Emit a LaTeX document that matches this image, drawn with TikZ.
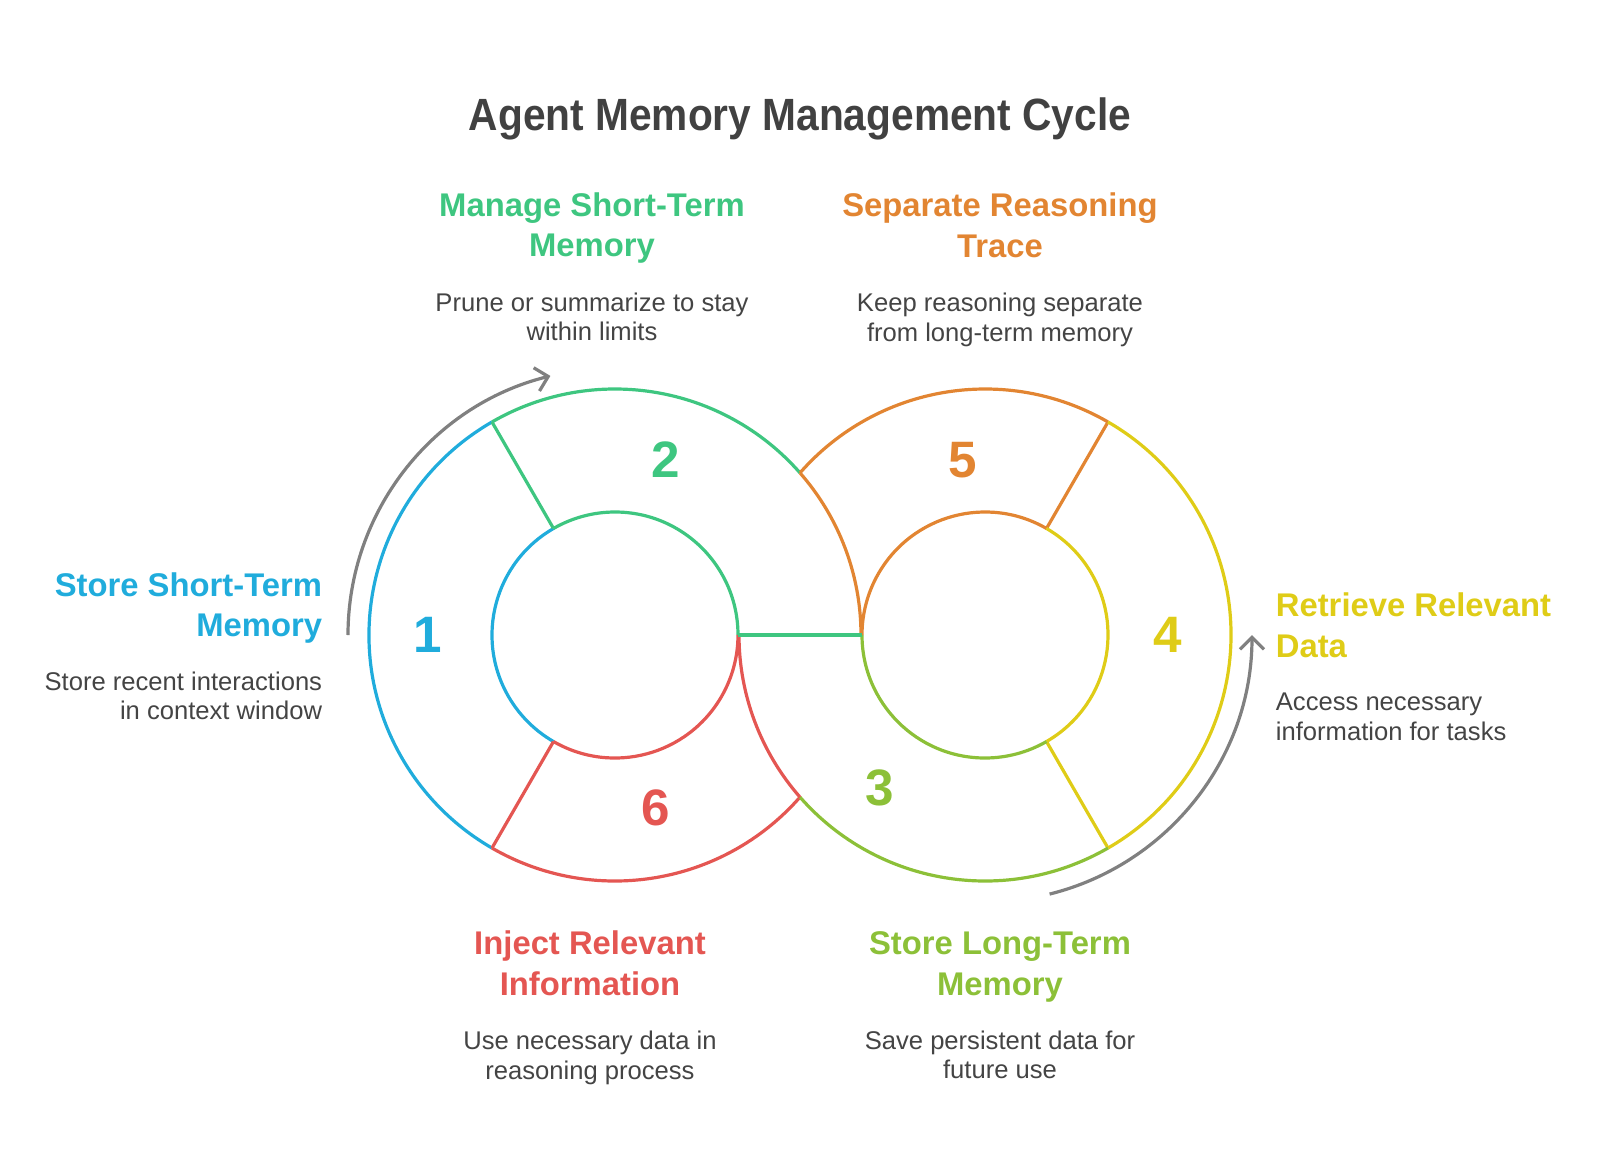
\documentclass[tikz,border=0pt]{standalone}
\usepackage{fontspec}
\setmainfont{Liberation Sans}
\newfontfamily\titlefont[FakeStretch=0.9]{Liberation Sans}
\usetikzlibrary{arrows.meta}
\definecolor{cblue}{HTML}{20ACDC}
\definecolor{cgreen}{HTML}{3EC680}
\definecolor{corange}{HTML}{E28532}
\definecolor{cyellow}{HTML}{DFCC17}
\definecolor{clime}{HTML}{8CC038}
\definecolor{cred}{HTML}{E45652}
\definecolor{cgray}{HTML}{808080}
\definecolor{ctext}{HTML}{444444}
\begin{document}
\begin{tikzpicture}[x=0.5pt,y=0.5pt,
	ring/.style={line width=1.6pt},
	cyc/.style={line width=1.6pt,cgray,-{Straight Barb[length=6pt,width=12pt]}},
	num/.style={inner sep=0pt,font=\fontsize{25.6}{30}\selectfont\bfseries},
	head/.style={inner sep=0pt,align=center,font=\fontsize{16.4}{20.4}\selectfont\bfseries},
	desc/.style={inner sep=0pt,align=center,text=ctext,font=\fontsize{12.8}{14.8}\selectfont}]
	\useasboundingbox (-800,-534) rectangle (800,635);
	\coordinate (L) at (-185,0);
	\coordinate (R) at (185,0);
	% left ring
	\draw[ring,cblue] ([shift={(120:246)}]L) arc[start angle=120,end angle=240,radius=246];
	\draw[ring,cblue] ([shift={(120:123)}]L) arc[start angle=120,end angle=240,radius=123];
	\draw[ring,cgreen] ([shift={(41.24:246)}]L) arc[start angle=41.24,end angle=120,radius=246];
	\draw[ring,cgreen] ([shift={(0:123)}]L) arc[start angle=0,end angle=120,radius=123];
	\draw[ring,cgreen] ([shift={(120:123)}]L) -- ([shift={(120:246)}]L);
	\draw[ring,cred] ([shift={(240:246)}]L) arc[start angle=240,end angle=318.76,radius=246];
	\draw[ring,cred] ([shift={(240:123)}]L) arc[start angle=240,end angle=360,radius=123];
	\draw[ring,cred] ([shift={(240:123)}]L) -- ([shift={(240:246)}]L);
	\draw[ring,corange] ([shift={(0:246)}]L) arc[start angle=0,end angle=41.24,radius=246];
	% right ring
	\draw[ring,corange] ([shift={(60:246)}]R) arc[start angle=60,end angle=138.76,radius=246];
	\draw[ring,corange] ([shift={(60:123)}]R) arc[start angle=60,end angle=180,radius=123];
	\draw[ring,corange] ([shift={(60:123)}]R) -- ([shift={(60:246)}]R);
	\draw[ring,cyellow] ([shift={(-60:246)}]R) arc[start angle=-60,end angle=60,radius=246];
	\draw[ring,cyellow] ([shift={(-60:123)}]R) arc[start angle=-60,end angle=60,radius=123];
	\draw[ring,cyellow] ([shift={(-60:123)}]R) -- ([shift={(-60:246)}]R);
	\draw[ring,clime] ([shift={(221.24:246)}]R) arc[start angle=221.24,end angle=300,radius=246];
	\draw[ring,clime] ([shift={(180:123)}]R) arc[start angle=180,end angle=300,radius=123];
	\draw[ring,cred] ([shift={(180:246)}]R) arc[start angle=180,end angle=221.24,radius=246];
	\draw[ring,cgreen] ([shift={(0:123)}]L) -- ([shift={(180:123)}]R);
	% cycle arrows
	\coordinate (a1) at ([shift={(180:267)}]L);
	\coordinate (a2) at ([shift={(-76:267)}]R);
	\draw[cyc] (a1) arc[start angle=180,end angle=104,radius=267];
	\draw[cyc] (a2) arc[start angle=-76,end angle=0,radius=267];
	% numbers
	\node[num,cblue] (n1) at (-372,0) {1};
	\node[num,cgreen] (n2) at (-134,175) {2};
	\node[num,clime] (n3) at (80,-153) {3};
	\node[num,cyellow] (n4) at (368,0) {4};
	\node[num,corange] (n5) at (163,175) {5};
	\node[num,cred] (n6) at (-144,-173) {6};
	% texts
	\node[text=ctext!95!black,font=\titlefont\fontsize{22.6}{26}\selectfont\bfseries] (title) at (0,516) {Agent Memory Management Cycle};
	\node[head,cgreen] (h2) at (-208,407) {Manage Short-Term\\Memory};
	\node[desc] (d2) at (-208,318) {Prune or summarize to stay\\within limits};
	\node[head,corange] (h5) at (200,410) {Separate Reasoning\\Trace};
	\node[desc] (d5) at (200,315) {Keep reasoning separate\\from long-term memory};
	\node[head,cblue,anchor=east,align=right] (h1) at (-477.5,27) {Store Short-Term\\Memory};
	\node[desc,anchor=east,align=right] (d1) at (-477.5,-61) {Store recent interactions\\in context window};
	\node[head,cyellow,anchor=west,align=left] (h4) at (475.5,10) {Retrieve Relevant\\Data};
	\node[desc,anchor=west,align=left] (d4) at (475.5,-82) {Access necessary\\information for tasks};
	\node[head,cred] (h6) at (-210,-328) {Inject Relevant\\Information};
	\node[desc] (d6) at (-210,-423) {Use necessary data in\\reasoning process};
	\node[head,clime] (h3) at (200,-332) {Store Long-Term\\Memory};
	\node[desc] (d3) at (200,-420) {Save persistent data for\\future use};
\end{tikzpicture}
\end{document}
